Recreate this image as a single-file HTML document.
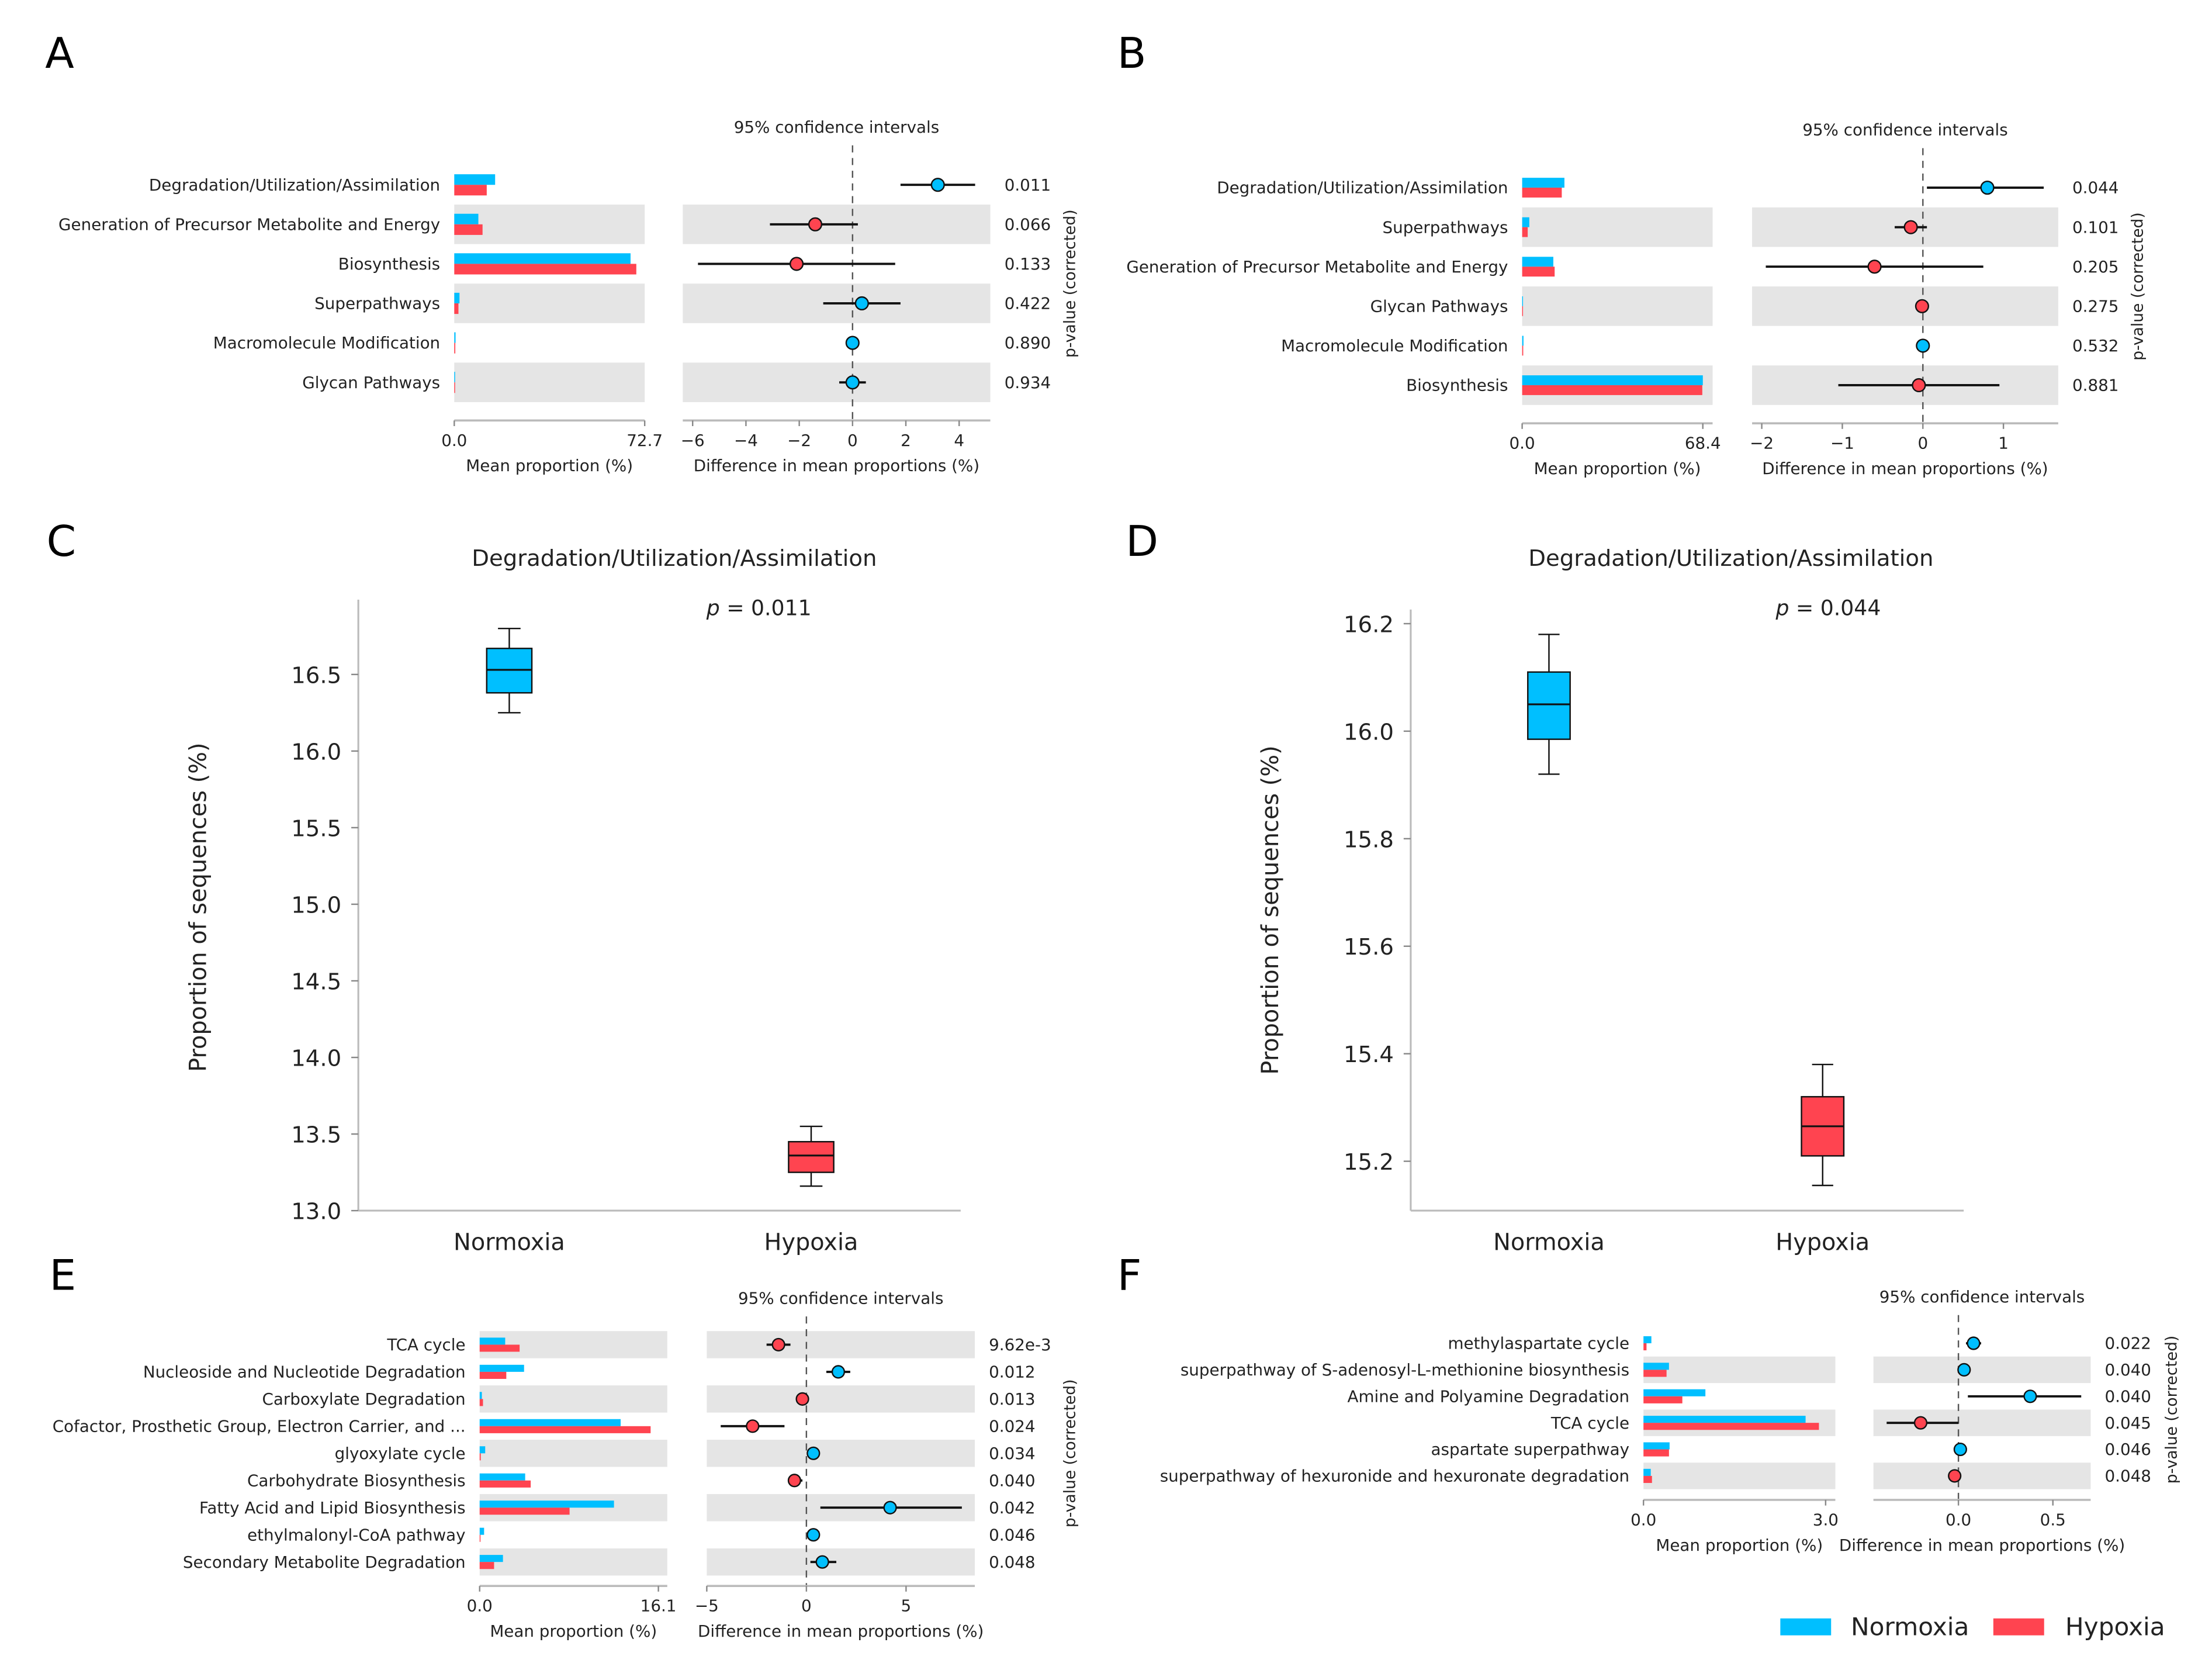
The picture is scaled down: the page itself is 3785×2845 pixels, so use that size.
<!DOCTYPE html>
<html><head><meta charset="utf-8"><style>
html,body{margin:0;padding:0;background:#fff;}
svg{display:block;font-family:"DejaVu Sans","Liberation Sans",sans-serif;}
</style></head><body>
<svg id="fig" xmlns="http://www.w3.org/2000/svg" width="3785" height="2845" viewBox="0 0 1568 1178.6"></svg>
<script>
// ---------- data ----------
const aCats=["Degradation/Utilization/Assimilation","Generation of Precursor Metabolite and Energy","Biosynthesis","Superpathways","Macromolecule Modification","Glycan Pathways"];
const aBlue=[15.6,9.2,67.3,2.0,0.5,0.2];
const aRed=[12.4,10.8,69.5,1.6,0.4,0.2];
const aDiff=[3.2,-1.4,-2.1,0.35,0.0,0.0];
const aLo=[1.8,-3.1,-5.8,-1.1,0.0,-0.5];
const aHi=[4.6,0.2,1.6,1.8,0.0,0.5];
const aP=["0.011","0.066","0.133","0.422","0.890","0.934"];
const aTicks=[-6,-4,-2,0,2,4];

const bCats=["Degradation/Utilization/Assimilation","Superpathways","Generation of Precursor Metabolite and Energy","Glycan Pathways","Macromolecule Modification","Biosynthesis"];
const bBlue=[16.0,2.7,11.8,0.3,0.5,68.4];
const bRed=[15.0,2.1,12.3,0.2,0.4,68.2];
const bDiff=[0.8,-0.15,-0.6,-0.01,0.0,-0.05];
const bLo=[0.05,-0.35,-1.95,-0.01,0.0,-1.05];
const bHi=[1.5,0.05,0.75,-0.01,0.0,0.95];
const bP=["0.044","0.101","0.205","0.275","0.532","0.881"];
const bTicks=[-2,-1,0,1];

const eCats=["TCA cycle","Nucleoside and Nucleotide Degradation","Carboxylate Degradation","Cofactor, Prosthetic Group, Electron Carrier, and ...","glyoxylate cycle","Carbohydrate Biosynthesis","Fatty Acid and Lipid Biosynthesis","ethylmalonyl-CoA pathway","Secondary Metabolite Degradation"];
const eBlue=[2.3,4.0,0.2,12.7,0.5,4.1,12.1,0.4,2.1];
const eRed=[3.6,2.4,0.3,15.4,0.1,4.6,8.1,0.05,1.3];
const eDiff=[-1.4,1.6,-0.2,-2.7,0.35,-0.6,4.2,0.35,0.8];
const eLo=[-2.0,1.0,-0.2,-4.3,0.35,-0.9,0.7,0.35,0.2];
const eHi=[-0.8,2.2,-0.2,-1.1,0.35,-0.2,7.8,0.35,1.5];
const eP=["9.62e-3","0.012","0.013","0.024","0.034","0.040","0.042","0.046","0.048"];
const eTicks=[-5,0,5];

const fCats=["methylaspartate cycle","superpathway of S-adenosyl-L-methionine biosynthesis","Amine and Polyamine Degradation","TCA cycle","aspartate superpathway","superpathway of hexuronide and hexuronate degradation"];
const fBlue=[0.13,0.42,1.02,2.67,0.43,0.12];
const fRed=[0.05,0.38,0.64,2.89,0.42,0.14];
const fDiff=[0.08,0.03,0.38,-0.2,0.01,-0.02];
const fLo=[0.04,0.03,0.05,-0.38,0.01,-0.02];
const fHi=[0.12,0.03,0.65,0.0,0.01,-0.02];
const fP=["0.022","0.040","0.040","0.045","0.046","0.048"];
const fTicks=[0.0,0.5];

const cGroups=["Normoxia","Hypoxia"];
const cWlo=[16.25,13.16], cQ1=[16.38,13.25], cMed=[16.53,13.36], cQ3=[16.67,13.45], cWhi=[16.8,13.55];
const cTicks=[13.0,13.5,14.0,14.5,15.0,15.5,16.0,16.5];
const dWlo=[15.92,15.155], dQ1=[15.985,15.21], dMed=[16.05,15.265], dQ3=[16.11,15.32], dWhi=[16.18,15.38];
const dTicks=[15.2,15.4,15.6,15.8,16.0,16.2];

// ---------- helpers ----------
const NS="http://www.w3.org/2000/svg";
const svg=document.getElementById('fig');
const BLUE="#00bfff", RED="#ff4450", SHADE="#e5e5e5";
function mk(tag,at,parent){const e=document.createElementNS(NS,tag);for(const k in at)e.setAttribute(k,at[k]);(parent||svg).appendChild(e);return e;}
function txt(s,x,y,size,anchor,parent,extra){const t=mk('text',Object.assign({x:x,y:y,'font-size':size,'text-anchor':anchor||'start',fill:'#222'},extra||{}),parent);t.textContent=s;return t;}

function ebPanel(id,cfg){
  const g=mk('g',{});
  
  
  const bx=v=>cfg.x0+(v/cfg.max)*(cfg.x1-cfg.x0);
  const cx=v=>cfg.cx0+(v-cfg.cmin)/(cfg.cmax-cfg.cmin)*(cfg.cx1-cfg.cx0);
  const n=cfg.cats.length;
  for(let i=0;i<n;i++){
    const y=cfg.y0+i*cfg.dy;
    if(i%2===cfg.shade){
      const r1=mk('rect',{x:cfg.x0,y:y-cfg.dy/2,width:cfg.x1-cfg.x0,height:cfg.dy,fill:SHADE},g);
      
      
      const r2=mk('rect',{x:cfg.cx0,y:y-cfg.dy/2,width:cfg.cx1-cfg.cx0,height:cfg.dy,fill:SHADE},g);
      
      
    }
  }
  const zl=mk('line',{x1:cx(0),x2:cx(0),y1:cfg.ytitle+9,y2:cfg.axisY,stroke:'#555','stroke-width':1,'stroke-dasharray':'5,4'},g);
  
  
  for(let i=0;i<n;i++){
    const y=cfg.y0+i*cfg.dy;
    const lab=txt(cfg.cats[i],cfg.x0-10,y+4,cfg.fs,'end',g);
    
    
    const rb=mk('rect',{x:cfg.x0,y:y-cfg.bh,width:Math.max(0.6,bx(cfg.blue[i])-cfg.x0),height:cfg.bh,fill:BLUE},g);
    
    
    const rr=mk('rect',{x:cfg.x0,y:y,width:Math.max(0.6,bx(cfg.red[i])-cfg.x0),height:cfg.bh,fill:RED},g);
    
    
    if(cfg.hi[i]!==cfg.lo[i]){
      const ci=mk('line',{x1:cx(cfg.lo[i]),x2:cx(cfg.hi[i]),y1:y,y2:y,stroke:'#111','stroke-width':1.6},g);
      
      
    }
    const pt=mk('circle',{cx:cx(cfg.diff[i]),cy:y,r:cfg.r,fill:cfg.diff[i]>=0?BLUE:RED,stroke:'#111','stroke-width':1},g);
    
    
    const pv=txt(cfg.p[i],cfg.cx1+10,y+4,cfg.fs,'start',g);
    
    
  }
  const ax1=mk('line',{x1:cfg.x0,x2:cfg.x1,y1:cfg.axisY,y2:cfg.axisY,stroke:'#bbb','stroke-width':1.5},g);
  
  
  const ax2=mk('line',{x1:cfg.cx0,x2:cfg.cx1,y1:cfg.axisY,y2:cfg.axisY,stroke:'#bbb','stroke-width':1.5},g);
  
  
  [0,cfg.tickMax].forEach(v=>{
    const tk=mk('line',{x1:bx(v),x2:bx(v),y1:cfg.axisY,y2:cfg.axisY+4,stroke:'#888'},g);
    
    
    const tl=txt(v.toFixed(1),bx(v),cfg.axisY+18,cfg.fs,'middle',g);
    
    
  });
  cfg.ticks.forEach(v=>{
    const tk=mk('line',{x1:cx(v),x2:cx(v),y1:cfg.axisY,y2:cfg.axisY+4,stroke:'#888'},g);
    
    
    const s=(v<0?'\u2212':'')+(cfg.dec?Math.abs(v).toFixed(1):Math.abs(v));
    const tl=txt(s,cx(v),cfg.axisY+18,cfg.fs,'middle',g);
    
    
  });
  const t1=txt('Mean proportion (%)',(cfg.x0+cfg.x1)/2,cfg.axisY+36,cfg.fs,'middle',g);
  
  
  const t2=txt('Difference in mean proportions (%)',(cfg.cx0+cfg.cx1)/2,cfg.axisY+36,cfg.fs,'middle',g);
  
  
  const t3=txt('95% confidence intervals',(cfg.cx0+cfg.cx1)/2,cfg.ytitle,cfg.fs,'middle',g);
  
  
  const pyc=(cfg.y0+(n-1)*cfg.dy/2);
  const t4=txt('p-value (corrected)',0,0,cfg.fs-0.5,'middle',g,{transform:`translate(${cfg.pvX},${pyc}) rotate(-90)`});
  
  
}

function boxPanel(id,cfg){
  const g=mk('g',{});
  
  
  const sy=v=>cfg.yA+(v-cfg.vA)/(cfg.vB-cfg.vA)*(cfg.yB-cfg.yA);
  const sp1=mk('line',{x1:cfg.left,x2:cfg.left,y1:cfg.top,y2:cfg.bottom,stroke:'#bbb','stroke-width':1.3},g);
  
  
  const sp2=mk('line',{x1:cfg.left,x2:cfg.right,y1:cfg.bottom,y2:cfg.bottom,stroke:'#bbb','stroke-width':1.3},g);
  
  
  cfg.ticks.forEach(v=>{
    const tk=mk('line',{x1:cfg.left-5,x2:cfg.left,y1:sy(v),y2:sy(v),stroke:'#888'},g);
    
    
    const tl=txt(v.toFixed(1),cfg.left-12,sy(v)+6,16,'end',g);
    
    
  });
  for(let i=0;i<2;i++){
    const x=cfg.xs[i], w=cfg.bw, col=i===0?BLUE:RED;
    const wl=mk('line',{x1:x,x2:x,y1:sy(cfg.wlo[i]),y2:sy(cfg.whi[i]),stroke:'#111','stroke-width':1},g);
    
    
    [cfg.wlo[i],cfg.whi[i]].forEach(v=>{
      const c=mk('line',{x1:x-w/4,x2:x+w/4,y1:sy(v),y2:sy(v),stroke:'#111','stroke-width':1},g);
      
      
    });
    const b=mk('rect',{x:x-w/2,y:sy(cfg.q3[i]),width:w,height:sy(cfg.q1[i])-sy(cfg.q3[i]),fill:col,stroke:'#111','stroke-width':1},g);
    
    
    const m=mk('line',{x1:x-w/2,x2:x+w/2,y1:sy(cfg.med[i]),y2:sy(cfg.med[i]),stroke:'#111','stroke-width':1.3},g);
    
    
    const gl=txt(cfg.groups[i],x,cfg.bottom+28,16.5,'middle',g);
    
    
  }
  const tt=txt('Degradation/Utilization/Assimilation',cfg.titleX,401,16,'middle',g);
  
  
  const pt=mk('text',{x:cfg.pX,y:436,'font-size':15,'text-anchor':'middle',fill:'#222'},g);
  
  
  pt.innerHTML='<tspan font-style="italic">p</tspan> = '+cfg.p;
  const yl=txt('Proportion of sequences (%)',0,0,16.5,'middle',g,{transform:`translate(${cfg.ylX},${cfg.ylY}) rotate(-90)`});
  
  
}

// ---------- panels ----------
ebPanel('a',{cats:aCats,blue:aBlue,red:aRed,diff:aDiff,lo:aLo,hi:aHi,p:aP,ticks:aTicks,
  x0:322,x1:457,max:72.7,tickMax:72.7,cx0:484,cx1:702,cmin:-6.37,cmax:5.17,y0:131,dy:28,bh:7.5,r:4.5,shade:1,
  axisY:298,ytitle:94,fs:11.5,pvX:762});
ebPanel('b',{cats:bCats,blue:bBlue,red:bRed,diff:bDiff,lo:bLo,hi:bHi,p:bP,ticks:bTicks,
  x0:1079,x1:1214,max:72.1,tickMax:68.4,cx0:1242,cx1:1459,cmin:-2.12,cmax:1.68,y0:133,dy:28,bh:7,r:4.5,shade:1,
  axisY:300,ytitle:96,fs:11.5,pvX:1519});
ebPanel('e',{cats:eCats,blue:eBlue,red:eRed,diff:eDiff,lo:eLo,hi:eHi,p:eP,ticks:eTicks,
  x0:340,x1:473,max:16.9,tickMax:16.1,cx0:501,cx1:691,cmin:-5.0,cmax:8.45,y0:953,dy:19.25,bh:5,r:4.3,shade:0,
  axisY:1124,ytitle:924,fs:11.5,pvX:762});
ebPanel('f',{cats:fCats,blue:fBlue,red:fRed,diff:fDiff,lo:fLo,hi:fHi,p:fP,ticks:fTicks,dec:true,
  x0:1165,x1:1301,max:3.16,tickMax:3.0,cx0:1328,cx1:1482,cmin:-0.45,cmax:0.7,y0:952,dy:18.8,bh:5,r:4.3,shade:1,
  axisY:1063,ytitle:923,fs:11.5,pvX:1543});

boxPanel('c',{groups:cGroups,wlo:cWlo,q1:cQ1,med:cMed,q3:cQ3,whi:cWhi,ticks:cTicks,
  yA:478,vA:16.5,yB:858,vB:13.0,left:254,right:681,top:425,bottom:858,xs:[361,575],bw:32,
  titleX:478,pX:538,p:'0.011',ylX:146,ylY:643});
boxPanel('d',{groups:cGroups,wlo:dWlo,q1:dQ1,med:dMed,q3:dQ3,whi:dWhi,ticks:dTicks,
  yA:442,vA:16.2,yB:823,vB:15.2,left:1000,right:1392,top:432,bottom:858,xs:[1098,1292],bw:30,
  titleX:1227,pX:1296,p:'0.044',ylX:906,ylY:645});

[['A',32,48],['B',792,48],['C',33,394],['D',798,394],['E',35,914],['F',792,914]].forEach(a=>{
  const t=txt(a[0],a[1],a[2],30,'start',null,{fill:'#000'});
  
  
});

const lg=mk('g',{});


const l1=mk('rect',{x:1262,y:1147,width:36,height:12,fill:BLUE},lg);


const l2=txt('Normoxia',1312,1159,17.5,'start',lg);


const l3=mk('rect',{x:1413,y:1147,width:36,height:12,fill:RED},lg);


const l4=txt('Hypoxia',1464,1159,17.5,'start',lg);


</script>
</body></html>
